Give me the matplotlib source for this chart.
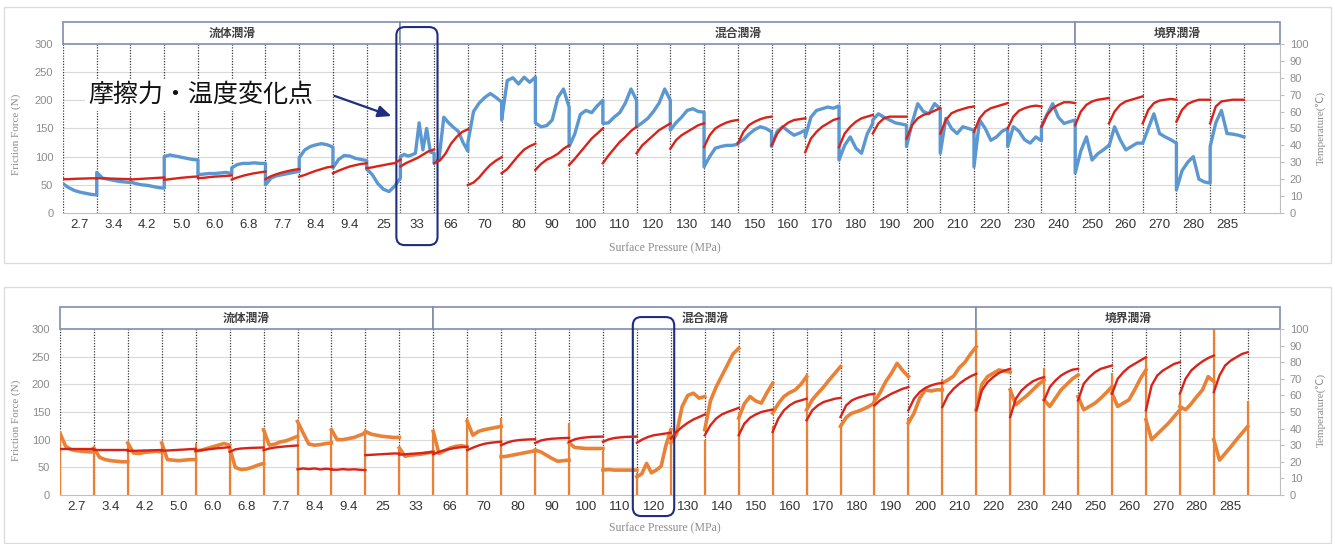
import numpy as np
import matplotlib.pyplot as plt
from matplotlib.patches import Rectangle, FancyBboxPatch

# ---- data ----
pressure_labels = ['2.7', '3.4', '4.2', '5.0', '6.0', '6.8', '7.7', '8.4', '9.4', '25',
                   '33', '66', '70', '80', '90', '100', '110', '120', '130', '140',
                   '150', '160', '170', '180', '190', '200', '210', '220', '230', '240',
                   '250', '260', '270', '280', '285']

# upper chart: friction force (N) per pressure step
top_friction = [
    [52, 45, 40, 37, 35, 33, 32], [72, 62, 60, 58, 56, 55, 54], [55, 52, 50, 49, 47, 45, 44],
    [100, 103, 101, 99, 97, 95, 94], [68, 69, 70, 70, 71, 72, 70], [80, 86, 88, 88, 89, 88, 88],
    [50, 62, 66, 68, 70, 72, 74], [98, 112, 118, 121, 123, 121, 117], [80, 95, 102, 101, 97, 95, 93],
    [78, 68, 52, 42, 38, 48, 62], [100, 104, 101, 103, 106, 160, 112, 150, 108, 106],
    [88, 95, 170, 160, 152, 145, 125, 110], [125, 180, 195, 205, 212, 205, 197],
    [165, 235, 240, 229, 241, 232, 241], [160, 153, 155, 165, 205, 220, 188],
    [118, 140, 175, 182, 178, 190, 200], [159, 160, 170, 178, 195, 220, 200],
    [153, 160, 168, 180, 195, 220, 200], [147, 160, 170, 182, 185, 180, 179],
    [82, 100, 115, 118, 120, 120, 122], [124, 130, 140, 148, 153, 150, 144],
    [118, 145, 153, 145, 138, 142, 147], [135, 170, 182, 185, 188, 186, 190],
    [94, 120, 135, 115, 106, 140, 159], [165, 176, 170, 165, 160, 158, 156],
    [118, 160, 194, 180, 176, 194, 185], [106, 168, 150, 141, 153, 150, 147],
    [82, 165, 150, 129, 135, 145, 150], [118, 153, 145, 130, 124, 135, 128],
    [153, 175, 194, 170, 159, 162, 165], [71, 110, 135, 94, 105, 112, 120],
    [118, 153, 130, 112, 118, 124, 124], [124, 150, 176, 141, 135, 130, 124],
    [41, 75, 90, 100, 60, 55, 53], [118, 160, 182, 141, 140, 138, 135],
]
# upper chart: temperature (deg C)
top_temp = [
    [20, 20, 20.2, 20.3, 20.4, 20.5, 20.5], [20.6, 20.5, 20.4, 20.3, 20.2, 20.1, 20],
    [19.8, 20, 20.2, 20.4, 20.6, 20.8, 21], [19.6, 20, 20.4, 20.8, 21.1, 21.4, 21.6],
    [20.6, 20.8, 21.2, 21.5, 21.7, 21.9, 22.2], [19.8, 21, 22, 22.8, 23.5, 24, 24.5],
    [20, 21.8, 23, 24, 24.8, 25.5, 26], [21.5, 22.5, 23.8, 25, 26, 27, 27.5],
    [23.5, 25, 26.3, 27.5, 28.3, 29, 29.4], [26.5, 27, 27.7, 28.3, 29, 29.5, 31.5],
    [27.5, 29.5, 31, 32.5, 34.5, 36.5, 37.6], [29.5, 31, 35, 41, 45, 48, 49.5],
    [16.5, 18, 21, 25, 28.5, 31, 33], [23.5, 26, 30, 34, 37.5, 39.5, 41],
    [25.5, 29, 31.5, 33, 35, 38, 40], [28.4, 32, 36, 40, 44, 47, 50],
    [29.4, 34, 38, 42, 45, 48.5, 51], [35.3, 40, 43, 46, 49, 51, 53],
    [38, 43, 46, 48, 50, 52, 53], [39, 46, 50, 52, 53.5, 54.5, 55],
    [41, 48, 52, 54, 55.5, 56.5, 57], [40, 47, 51, 53.5, 55, 55.5, 56],
    [36, 44, 48, 51, 53, 55, 56], [39, 47, 51, 54, 56, 57, 58],
    [47, 53, 56, 57, 57, 57, 57], [44, 52, 56, 58, 59, 60.5, 62],
    [47, 55, 59, 60.5, 61.5, 62.5, 63], [48, 56, 60, 62, 63, 64, 65],
    [50, 57, 60.5, 62, 63, 63.5, 63], [51, 58, 62, 64, 65.5, 65.5, 65],
    [52, 60, 64, 66, 67, 67.5, 68], [53, 60, 64, 66, 67, 68, 69],
    [53, 61, 65, 66.5, 67, 67.5, 67], [54, 61, 64.5, 66, 67, 67, 67],
    [53, 63, 66, 66.5, 67, 67, 67],
]

# lower chart: friction force (N)
bottom_friction = [
    [112, 88, 82, 80, 79, 78, 78], [85, 68, 64, 62, 61, 60, 60], [94, 76, 75, 77, 78, 79, 78],
    [94, 64, 63, 62, 63, 64, 64], [80, 81, 84, 87, 90, 93, 90], [85, 50, 46, 47, 50, 54, 57],
    [118, 90, 92, 96, 98, 102, 106], [133, 112, 92, 90, 91, 93, 94], [118, 100, 100, 102, 104, 108, 112],
    [115, 110, 108, 106, 105, 104, 104], [85, 70, 72, 73, 74, 76, 78], [115, 75, 80, 85, 88, 89, 87],
    [133, 108, 115, 118, 120, 122, 124], [69, 70, 72, 74, 76, 78, 80], [81, 78, 72, 66, 61, 62, 63],
    [94, 86, 85, 84, 84, 84, 84], [45, 46, 45, 45, 45, 45, 45], [33, 38, 57, 40, 45, 52, 90, 118],
    [94, 110, 160, 180, 184, 175, 178], [118, 170, 195, 215, 235, 255, 265],
    [139, 165, 178, 170, 166, 185, 202], [148, 165, 178, 185, 190, 200, 214],
    [154, 172, 184, 195, 208, 220, 232], [124, 140, 148, 151, 155, 160, 166],
    [169, 185, 205, 220, 238, 225, 214], [130, 148, 175, 190, 188, 190, 190],
    [202, 208, 215, 230, 240, 255, 268], [154, 200, 214, 220, 226, 224, 222],
    [190, 163, 172, 180, 190, 200, 208], [172, 160, 175, 190, 200, 210, 217],
    [178, 154, 160, 166, 175, 185, 196], [184, 160, 166, 172, 190, 210, 226],
    [136, 100, 110, 120, 130, 142, 154], [160, 154, 165, 178, 190, 214, 205],
    [100, 63, 75, 87, 100, 112, 124],
]
# lower chart: temperature (deg C)
bottom_temp = [
    [27.5, 27.5, 27.5, 27.5, 27.5, 27.5, 27.5], [27, 27, 27, 27, 27, 27, 27],
    [26.5, 26.6, 26.7, 26.8, 26.9, 27, 27.1], [26.7, 26.8, 27, 27.2, 27.4, 27.6, 27.8],
    [26.5, 27, 27.4, 27.8, 28.2, 28.5, 28.8], [26, 27.5, 28, 28.2, 28.4, 28.5, 28.6],
    [27, 28, 28.6, 29, 29.3, 29.6, 29.8], [15.5, 16, 15.6, 16, 15.4, 15.8, 15.5],
    [15.3, 15.2, 15.6, 15.3, 15.5, 15.2, 15.0], [24, 24.2, 24.4, 24.6, 24.8, 25, 25],
    [24.3, 24.5, 24.8, 25, 25.3, 25.6, 26], [24.5, 26, 27, 27.8, 28.4, 28.8, 29],
    [27, 28.5, 29.8, 30.8, 31.4, 31.8, 32.1], [30, 31.5, 32.5, 33, 33.3, 33.5, 33.6],
    [31.3, 32.8, 33.5, 33.9, 34.1, 34.3, 34.4], [32, 33.5, 34.3, 34.7, 35, 35.1, 35.2],
    [32, 33.5, 34.3, 34.7, 35, 35.1, 35.2], [31.5, 33.5, 35, 36, 36.5, 37, 37.5],
    [34, 38, 41, 43.5, 45.5, 47, 48.5], [36, 42, 46, 48.5, 50, 51.2, 52.5],
    [36, 43, 46.5, 48.5, 50, 50.8, 51.5], [38, 46, 51, 54, 56, 57, 58],
    [45, 51, 54, 56, 57, 58, 58.5], [47, 54, 57, 58.5, 59.5, 60.5, 61],
    [54, 57, 59, 61, 62.5, 64, 65], [51, 58, 62, 64.5, 66, 67, 67.5],
    [53, 60, 64, 67, 69.5, 71.5, 73], [51, 63, 68, 71, 73.5, 75, 76],
    [47, 58, 63, 66, 68.5, 70, 71], [57, 65, 69, 72, 74, 75.5, 76],
    [57, 67, 71, 74, 76, 77, 78], [61, 70, 74, 77, 79, 81, 83],
    [51, 66, 72, 75, 77, 79, 80], [61, 70, 75, 78, 80.5, 82.5, 84],
    [62, 72, 78, 81, 83, 85, 86],
]
# lower chart: friction spikes at each step change (N)
bottom_spikes = [112, 85, 94, 94, 94, 85, 118, 133, 118, 115, 85, 115, 140, 140, 81, 130, 80, 40,
                 120, 100, 150, 125, 220, 130, 180, 140, 210, 300, 190, 230, 180, 220, 250, 180, 300, 170]

top_regimes = [('流体潤滑', 0, 10), ('混合潤滑', 10, 30), ('境界潤滑', 30, None)]
bottom_regimes = [('流体潤滑', 0, 11), ('混合潤滑', 11, 27), ('境界潤滑', 27, None)]
top_highlight = 10      # 33 MPa
bottom_highlight = 17   # 120 MPa

CJK = ['Noto Sans CJK JP', 'DejaVu Sans']
SERIF = ['Liberation Serif', 'Noto Sans CJK JP', 'DejaVu Sans']
RED = '#d8231b'
NAVY = '#1f2d80'
GRAY = '#8c8c8c'


def seg_x(i, n):
    return np.linspace(i, i + 1, n)


def draw_panel(fig, rect, xmax, friction, temp, fcolor, regimes, highlight, hl_span, spikes=None):
    ax = fig.add_axes(rect)
    ax.set_xlim(0, xmax)
    ax.set_ylim(0, 300)
    ax2 = ax.twinx()
    ax2.set_ylim(0, 100)

    n = len(friction)
    for v in range(50, 300, 50):
        ax.axhline(v, color='#d9d9d9', lw=0.8, zorder=0)
    for b in range(n + 1):
        ax.plot([b, b], [0, 300], color='#3a3a3a', ls=(0, (1, 1.2)), lw=0.9, zorder=1)

    if spikes is not None:
        ax.vlines(range(n + 1), 0, spikes, color=fcolor, lw=1.6, zorder=2)
        for i, f in enumerate(friction):
            ax.plot(seg_x(i, len(f)), f, color=fcolor, lw=2.6, zorder=3)
    else:
        xs = np.concatenate([seg_x(i, len(f)) for i, f in enumerate(friction)])
        ax.plot(xs, np.concatenate(friction), color=fcolor, lw=2.4, zorder=3)

    for i, t in enumerate(temp):
        ax2.plot(seg_x(i, len(t)), t, color=RED, lw=1.7)

    # step labels under each segment
    tr = ax.get_xaxis_transform()
    for i, lab in enumerate(pressure_labels):
        ax.text(i + 0.5, -0.07, lab, transform=tr, ha='center', va='center',
                fontsize=9.5, family='Liberation Sans', color='#333333')

    # lubrication regime boxes above the plot
    for name, x0, x1 in regimes:
        x1 = xmax if x1 is None else x1
        ax.add_patch(Rectangle((x0, 1.0), x1 - x0, 0.13, transform=tr, clip_on=False,
                               fc='white', ec='#7f8cab', lw=1.2, zorder=5))
        ax.text((x0 + x1) / 2, 1.065, name, transform=tr, ha='center', va='center',
                fontsize=8.5, fontweight='bold', family=CJK, color='#404040', zorder=6)

    # rounded highlight around the change point
    bb = ax.get_position()
    px_per_x = bb.width * fig.bbox.width / xmax
    px_per_y = bb.height * fig.bbox.height
    y0, y1 = hl_span
    ax.add_patch(FancyBboxPatch((highlight - 0.12, y0), 1.22, y1 - y0,
                                boxstyle='round,pad=0,rounding_size=0.25',
                                mutation_aspect=px_per_x / px_per_y,
                                transform=tr, clip_on=False, fc='none', ec=NAVY, lw=1.5, zorder=7))

    ax.set_xticks([])
    ax.set_yticks(range(0, 301, 50))
    ax.tick_params(axis='y', length=0, pad=7, labelsize=8, labelcolor=GRAY)
    ax2.set_yticks(range(0, 101, 10))
    ax2.tick_params(axis='y', length=3, color='#bfbfbf', pad=4, labelsize=8, labelcolor=GRAY)
    for lab in ax.get_yticklabels() + ax2.get_yticklabels():
        lab.set_family('Liberation Sans')
    for s in ['top', 'left', 'right']:
        ax.spines[s].set_visible(False)
    ax.spines['bottom'].set_color('#bfbfbf')
    for s in ['top', 'left', 'bottom']:
        ax2.spines[s].set_visible(False)
    ax2.spines['right'].set_color('#bfbfbf')
    return ax


fig = plt.figure(figsize=(13.35, 5.44), dpi=100)

# light frames around each chart
for y0 in [0.5165, 0.0018]:
    fig.add_artist(Rectangle((0.003, y0), 0.994, 0.4706, transform=fig.transFigure,
                             fc='none', ec='#dcdcdc', lw=1.0))

draw_panel(fig, [0.0472, 0.6085, 0.9116, 0.3107], 36.07, top_friction, top_temp,
           '#5b97d1', top_regimes, top_highlight, (-0.19, 1.10))
draw_panel(fig, [0.0449, 0.0901, 0.9139, 0.3051], 35.95, bottom_friction, bottom_temp,
           '#e98236', bottom_regimes, bottom_highlight, (-0.127, 1.072), spikes=bottom_spikes)

# axis titles
for yc, xl in [(1 - 134 / 544, 1 - 248 / 544), (1 - 420 / 544, 1 - 528 / 544)]:
    fig.text(0.0118, yc, 'Friction Force (N)', rotation=90, ha='center', va='center',
             fontsize=8, family=SERIF, color=GRAY)
    fig.text(0.498, xl, 'Surface Pressure (MPa)', ha='center', va='center',
             fontsize=8.5, family=SERIF, color=GRAY)
for yc in [1 - 128 / 544, 1 - 410 / 544]:
    fig.text(0.989, yc, 'Temperature(℃)', rotation=90, ha='center', va='center',
             fontsize=8, family=SERIF, color=GRAY)

# callout text and arrow
fig.text(0.0659, 1 - 95 / 544, '摩擦力・温度変化点', ha='left', va='center', fontsize=18,
         family=CJK, color='#111111', zorder=10,
         bbox=dict(fc='white', ec='none', pad=2))
fig.add_artist(plt.Annotation('', xy=(0.2951, 0.7849), xytext=(0.2487, 0.8254),
                              xycoords='figure fraction', textcoords='figure fraction',
                              arrowprops=dict(arrowstyle='-|>,head_length=0.8,head_width=0.35',
                                              color=NAVY, lw=1.6)))

fig.savefig('out.png', dpi=100)
